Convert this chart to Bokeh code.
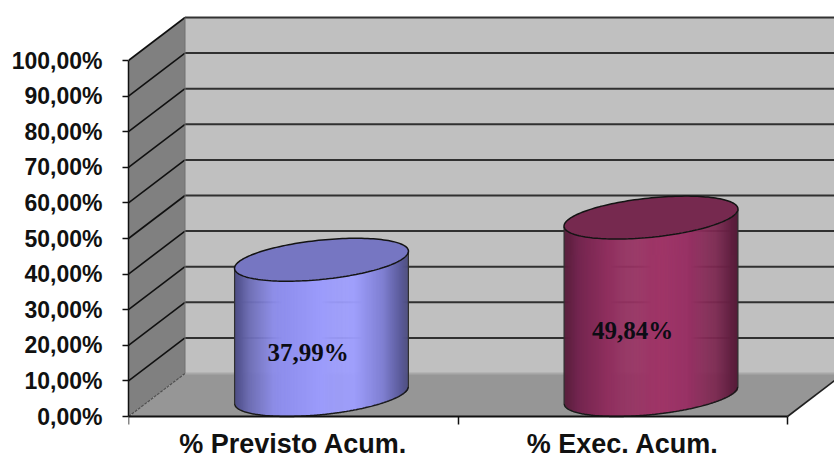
import numpy as np
from bokeh.embed import file_html
from bokeh.resources import INLINE
from bokeh.plotting import figure
from bokeh.models import FixedTicker, Range1d
from bokeh.core.properties import value

categories = ["% Previsto Acum.", "% Exec. Acum."]
values = [37.99, 49.84]
value_labels = ["37,99%", "49,84%"]
y_ticks = [0, 10, 20, 30, 40, 50, 60, 70, 80, 90, 100]
y_tick_labels = ["0,00%", "10,00%", "20,00%", "30,00%", "40,00%", "50,00%",
                 "60,00%", "70,00%", "80,00%", "90,00%", "100,00%"]

# page geometry
W, H = 834, 459
FL, FB = 128, 43                   # left border; space below the zero line
CAT_PX = 329.5
VAL_PX = 3.56
DX = 56.5 / CAT_PX                 # 3D depth in x units
DY = 43.0 / VAL_PX                 # 3D depth in y units

p = figure(width=W, height=H, output_backend="svg", toolbar_location=None,
           min_border_left=FL, min_border_right=0, min_border_top=0, min_border_bottom=0,
           x_range=Range1d(0, (W - FL) / CAT_PX),
           y_range=Range1d(-FB / VAL_PX, (H - FB) / VAL_PX),
           background_fill_color="white", border_fill_color="white")
p.outline_line_color = None
p.grid.visible = False

ymax = max(y_ticks)
xmax = len(categories)

# walls and floor
p.patch([DX, xmax + DX, xmax + DX, DX], [DY, DY, ymax + DY, ymax + DY], fill_color="#c0c0c0", line_color=None)
p.patch([0, DX, DX, 0], [0, DY, ymax + DY, ymax], fill_color="#808080", line_color=None)
p.patch([0, xmax, xmax + DX, DX], [0, 0, DY, DY], fill_color="#969696", line_color=None)

# gridlines
for t in y_ticks[1:]:
    p.line([DX, xmax + DX], [t + DY, t + DY], line_color="#202020", line_width=2, line_alpha=0.9)
    p.line([0, DX], [t, t + DY], line_color="#101010", line_width=1.6)
p.line([0, DX], [0, DY], line_color="#505050", line_width=1.2, line_dash="3 1")
p.line([DX, xmax + DX], [DY, DY], line_color="#a8a8a8", line_width=2)
p.line([DX, DX], [DY, ymax + DY], line_color="#707070", line_width=1)
p.line([xmax, xmax + DX], [0, DY], line_color="#202020", line_width=1.6)

# cylinders
A, B, TILT = 87.4, 19.6, np.radians(5.9)   # tilted ellipse, in pixels


def ellipse(n=160):
    t = np.linspace(0, 2 * np.pi, n)
    ex = A * np.cos(t) * np.cos(TILT) - B * np.sin(t) * np.sin(TILT)
    ey = A * np.cos(t) * np.sin(TILT) + B * np.sin(t) * np.cos(TILT)
    return ex, ey


def lower(ex, ey, xs):
    i0 = np.argmin(ex)
    i1 = np.argmax(ex)
    lo, hi = sorted((i0, i1))
    a_x, a_y = ex[lo:hi + 1], ey[lo:hi + 1]
    b_x, b_y = np.r_[ex[hi:], ex[1:lo + 1]], np.r_[ey[hi:], ey[1:lo + 1]]
    if a_y.mean() > b_y.mean():
        a_x, a_y = b_x, b_y
    o = np.argsort(a_x)
    return np.interp(xs, a_x[o], a_y[o])


def shade(stops, f):
    pos = [s[0] for s in stops]
    rgb = [[int(s[1][k:k + 2], 16) for k in (1, 3, 5)] for s in stops]
    return "#%02x%02x%02x" % tuple(int(np.interp(f, pos, [c[j] for c in rgb])) for j in range(3))


styles = [
    {"top": "#7676c2",
     "stops": [(0, "#4e4e86"), (0.08, "#6c6cb4"), (0.22, "#8c8cea"), (0.5, "#9c9cfc"), (0.68, "#9f9fff"),
               (0.85, "#8080d2"), (0.95, "#5c5c9c"), (1, "#4c4c7c")]},
    {"top": "#76294f",
     "stops": [(0, "#571d3a"), (0.08, "#742650"), (0.25, "#90305f"), (0.55, "#a03668"), (0.7, "#993366"),
               (0.87, "#7c2850"), (0.96, "#601f40"), (1, "#541c38")]},
]
label_dx = [0.045, 0.03]

for i, v in enumerate(values):
    cx = i + 0.5 + DX / 2
    base = DY / 2
    top = v + DY / 2
    ex, ey = ellipse()
    half = np.sqrt((A * np.cos(TILT)) ** 2 + (B * np.sin(TILT)) ** 2) * 0.9995
    xs = np.linspace(-half, half, 177)
    ly = lower(ex, ey, xs)
    colors = [shade(styles[i]["stops"], (x + half) / (2 * half)) for x in xs]
    # painter's order: each strip overlaps the next one, so no seams show
    p.quad(left=cx + xs[:-1] / CAT_PX, right=cx + xs[1:] / CAT_PX + 0.5 / CAT_PX * (xs[1:] < half),
           bottom=base + ly[:-1] / VAL_PX, top=top + ly[:-1] / VAL_PX,
           fill_color=colors[:-1], line_color=None)
    # silhouette
    p.line(cx + xs / CAT_PX, base + ly / VAL_PX, line_color="#1a1a1a", line_width=1.5)
    p.line([cx + xs[0] / CAT_PX] * 2, [base + ly[0] / VAL_PX, top + ly[0] / VAL_PX], line_color="#303030", line_width=1.2)
    p.line([cx + xs[-1] / CAT_PX] * 2, [base + ly[-1] / VAL_PX, top + ly[-1] / VAL_PX], line_color="#303030", line_width=1.2)
    # top face
    p.patch(cx + ex / CAT_PX, top + ey / VAL_PX, fill_color=styles[i]["top"], line_color="#141414", line_width=1.5)
    # value label
    p.text([i + 0.5 + label_dx[i]], [v / 2 - 0.9], text=[value_labels[i]],
           text_font=value("Liberation Serif"), text_font_style="bold", text_font_size="25px",
           text_color="#0c0c14", text_align="center", text_baseline="middle")

# axes
ya = p.yaxis[0]
ya.ticker = FixedTicker(ticks=y_ticks)
ya.major_label_overrides = {t: s for t, s in zip(y_ticks, y_tick_labels)}
ya.bounds = (0, 100)
ya.major_tick_in = 0
ya.major_tick_out = 6
ya.minor_tick_line_color = None
ya.axis_line_color = "#101010"
ya.axis_line_width = 1.5
ya.major_tick_line_color = "#101010"
ya.major_tick_line_width = 1.5
ya.major_label_standoff = 20
ya.major_label_text_font = "Liberation Sans"
ya.major_label_text_font_style = "bold"
ya.major_label_text_font_size = "23px"
ya.major_label_text_color = "#111111"

xa = p.xaxis[0]
centers = [i + 0.5 for i in range(len(categories))]
xa.fixed_location = 0
xa.ticker = FixedTicker(ticks=centers, minor_ticks=list(range(len(categories) + 1)))
xa.major_label_overrides = {c: s for c, s in zip(centers, categories)}
xa.bounds = (0, xmax)
xa.major_tick_in = 0
xa.major_tick_out = 0
xa.minor_tick_in = 0
xa.minor_tick_out = 8
xa.minor_tick_line_color = "#101010"
xa.minor_tick_line_width = 1.5
xa.axis_line_color = "#101010"
xa.axis_line_width = 2
xa.major_label_standoff = 4
xa.major_label_text_font = "Liberation Sans"
xa.major_label_text_font_style = "bold"
xa.major_label_text_font_size = "27px"
xa.major_label_text_color = "#111111"

open("out.html", "w").write(file_html(p, INLINE))
